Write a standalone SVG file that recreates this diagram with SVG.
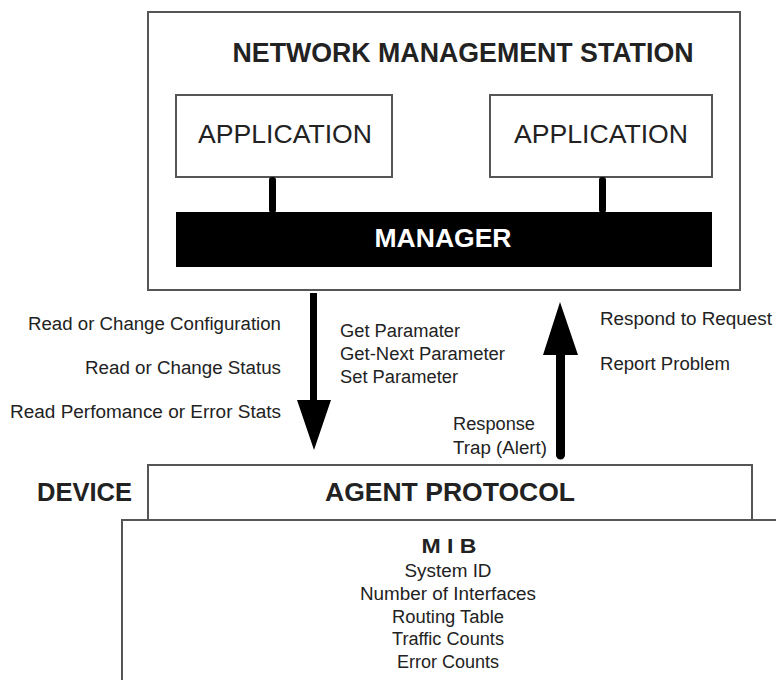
<svg xmlns="http://www.w3.org/2000/svg" width="776" height="680" viewBox="0 0 776 680">
<style>
.box{fill:#fff;stroke:#555;stroke-width:2}
.t{font-family:"Liberation Sans",Arial,sans-serif;fill:#222}
.b{font-weight:bold}
.s{font-size:18px}
.m{text-anchor:middle}
.e{text-anchor:end}
</style>
<rect width="776" height="680" fill="#fff"/>
<g id="nms">
<rect class="box" x="148" y="12" width="592" height="278"/>
<text class="t b m" x="463" y="62" font-size="27" textLength="461" lengthAdjust="spacingAndGlyphs">NETWORK MANAGEMENT STATION</text>
</g>
<g id="app1">
<rect class="box" x="176" y="95" width="216" height="82"/>
<text class="t m" x="285" y="143" font-size="25" textLength="174" lengthAdjust="spacingAndGlyphs">APPLICATION</text>
</g>
<g id="app2">
<rect class="box" x="490" y="95" width="222" height="82"/>
<text class="t m" x="601" y="143" font-size="25" textLength="174" lengthAdjust="spacingAndGlyphs">APPLICATION</text>
</g>
<g id="manager">
<rect x="176" y="212" width="536" height="55" fill="#000"/>
<text class="t b m" x="443" y="247" font-size="26" textLength="137" lengthAdjust="spacingAndGlyphs" style="fill:#fff">MANAGER</text>
</g>
<g id="connectors">
<rect x="269" y="177" width="7" height="36" rx="3" fill="#000"/>
<rect x="599" y="177" width="7" height="36" rx="3" fill="#000"/>
<path d="M310 293 H317 V400 H331 L314 450 L297 400 H310 Z" fill="#000"/>
<path d="M560 302 L578 355 H565 V455 A4.5 4.5 0 0 1 556 455 V355 H543 Z" fill="#000"/>
</g>
<g id="labels">
<text class="t s e" x="281" y="330" textLength="253" lengthAdjust="spacingAndGlyphs">Read or Change Configuration</text>
<text class="t s e" x="281" y="374" textLength="196" lengthAdjust="spacingAndGlyphs">Read or Change Status</text>
<text class="t s e" x="281" y="418" textLength="271" lengthAdjust="spacingAndGlyphs">Read Perfomance or Error Stats</text>
<text class="t s" x="340" y="337" textLength="120" lengthAdjust="spacingAndGlyphs">Get Paramater</text>
<text class="t s" x="340" y="360" textLength="165" lengthAdjust="spacingAndGlyphs">Get-Next Parameter</text>
<text class="t s" x="340" y="383" textLength="118" lengthAdjust="spacingAndGlyphs">Set Parameter</text>
<text class="t s" x="600" y="325" textLength="172" lengthAdjust="spacingAndGlyphs">Respond to Request</text>
<text class="t s" x="600" y="370" textLength="130" lengthAdjust="spacingAndGlyphs">Report Problem</text>
<text class="t s" x="453" y="430" textLength="82" lengthAdjust="spacingAndGlyphs">Response</text>
<text class="t s" x="453" y="454" textLength="94" lengthAdjust="spacingAndGlyphs">Trap (Alert)</text>
</g>
<g id="device">
<text class="t b" x="37" y="501" font-size="26" textLength="95" lengthAdjust="spacingAndGlyphs">DEVICE</text>
</g>
<g id="agent">
<rect class="box" x="148" y="465" width="604" height="55"/>
<text class="t b m" x="450" y="501" font-size="26" textLength="250" lengthAdjust="spacingAndGlyphs">AGENT PROTOCOL</text>
</g>
<g id="mib">
<rect class="box" x="122" y="520" width="660" height="170"/>
<text class="t b m" x="449" y="553" font-size="21" textLength="55" lengthAdjust="spacingAndGlyphs">M I B</text>
<text class="t s m" x="448" y="577" textLength="87" lengthAdjust="spacingAndGlyphs">System ID</text>
<text class="t s m" x="448" y="600" textLength="176" lengthAdjust="spacingAndGlyphs">Number of Interfaces</text>
<text class="t s m" x="448" y="623" textLength="112" lengthAdjust="spacingAndGlyphs">Routing Table</text>
<text class="t s m" x="448" y="645" textLength="112" lengthAdjust="spacingAndGlyphs">Traffic Counts</text>
<text class="t s m" x="448" y="668" textLength="102" lengthAdjust="spacingAndGlyphs">Error Counts</text>
</g>
</svg>
